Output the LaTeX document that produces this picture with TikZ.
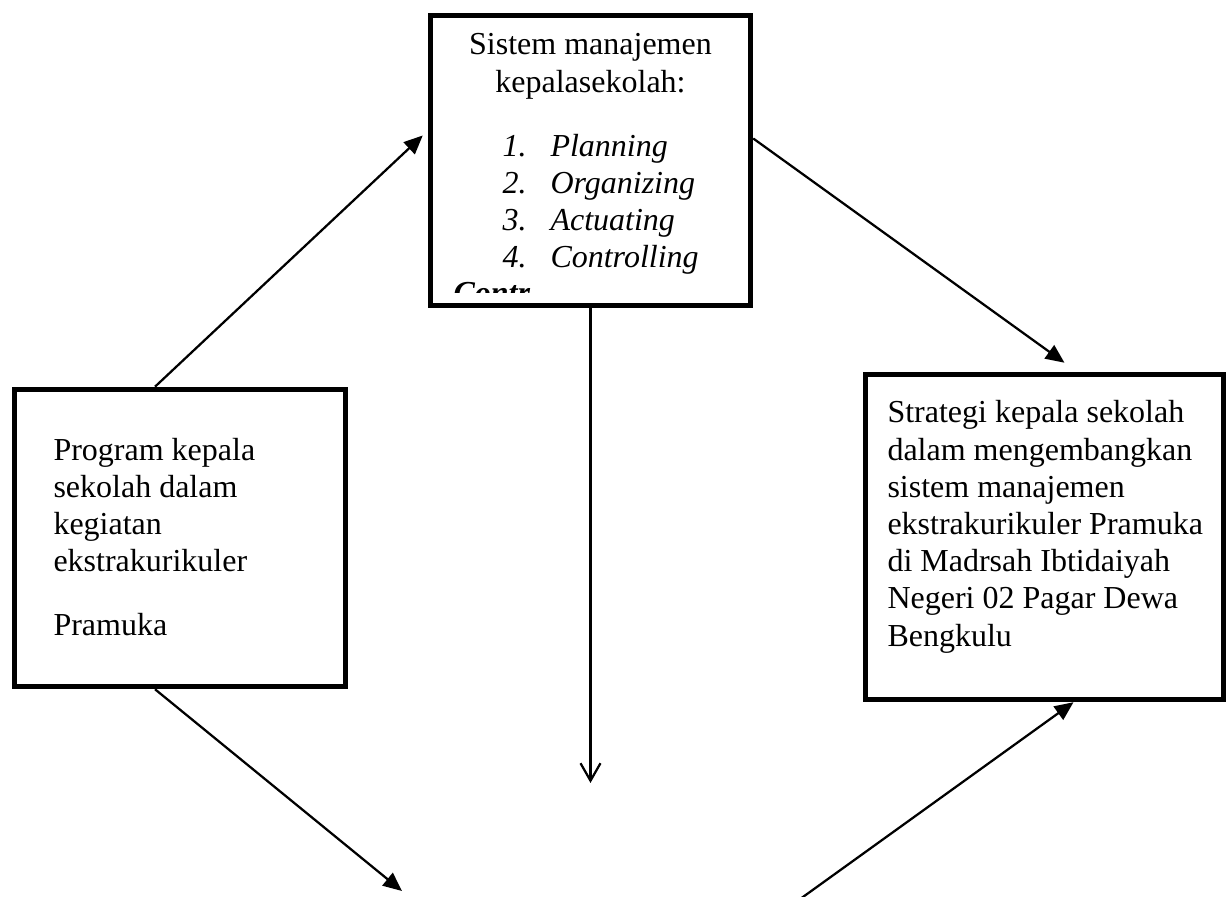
\documentclass[tikz,border=0pt]{standalone}
\usepackage{fontspec}
\setmainfont{Liberation Serif}
\usetikzlibrary{arrows.meta,calc}

\begin{document}
\begin{tikzpicture}[x=0.4pt,y=-0.4pt,
  every node/.style={font=\fontsize{12.8}{14.8}\selectfont,inner sep=0pt},
  kotak/.style={draw,line width=2.2pt},
  baris/.style={anchor=base west},
  panah/.style={line width=0.9pt,-{Triangle[length=7.5pt,width=6.5pt]}}]
\useasboundingbox (0,0) rectangle (1229,897);
% kotak
\node (mgmt) [kotak,minimum width=128pt,minimum height=116pt] at (590.5,160.5) {};
\node (prog) [kotak,minimum width=132.4pt,minimum height=118.8pt] at (180,538) {};
\node (strat) [kotak,minimum width=143.2pt,minimum height=130pt] at (1044.5,537) {};
% isi kotak atas
\node (judul-1) [anchor=base] at (590.5,55) {Sistem manajemen};
\node (judul-2) [anchor=base] at (590.5,93) {kepalasekolah:};
\foreach \t [count=\i] in {Planning,Organizing,Actuating,Controlling} {
  \node (no-\i) [baris] at (502,{157+36.7*(\i-1)}) {\itshape\i.};
  \node (fungsi-\i) [baris] at (550,{157+36.7*(\i-1)}) {\itshape\t};
}
\begin{scope}
\clip (432,17) rectangle (749,293);
\node (sisa) [baris] at (453,304) {\bfseries\itshape Contr};
\end{scope}
% isi kotak kiri
\foreach \t [count=\i from 0] in {Program kepala,sekolah dalam,kegiatan,ekstrakurikuler}
  \node (prog-\i) [baris] at (53,{461+37*\i}) {\t};
\node (prog-4) [baris] at (53,636) {Pramuka};
% isi kotak kanan
\foreach \t [count=\i from 0] in {Strategi kepala sekolah,dalam mengembangkan,sistem manajemen,ekstrakurikuler Pramuka,di Madrsah Ibtidaiyah,Negeri 02 Pagar Dewa,Bengkulu}
  \node (strat-\i) [baris] at (887,{423+37.2*\i}) {\t};
% panah
\coordinate (tengah) at (590.5,783);
\coordinate (bawah-kiri) at (402,891);
\coordinate (bawah-kanan) at (796,902);
\draw[panah] ($(prog.north)+(-25,0)$) -- ($(mgmt.west)+(-5,-25)$);
\draw[panah] ($(mgmt.east)+(0,-22)$) -- ($(strat.north)+(20,-9)$);
\draw[line width=0.9pt,-{Straight Barb[length=7pt,width=8pt]}] (mgmt.south) -- (tengah);
\draw[panah] ($(prog.south)+(-25,0)$) -- (bawah-kiri);
\draw[panah] (bawah-kanan) -- ($(strat.south)+(29,0)$);
\end{tikzpicture}
\end{document}
